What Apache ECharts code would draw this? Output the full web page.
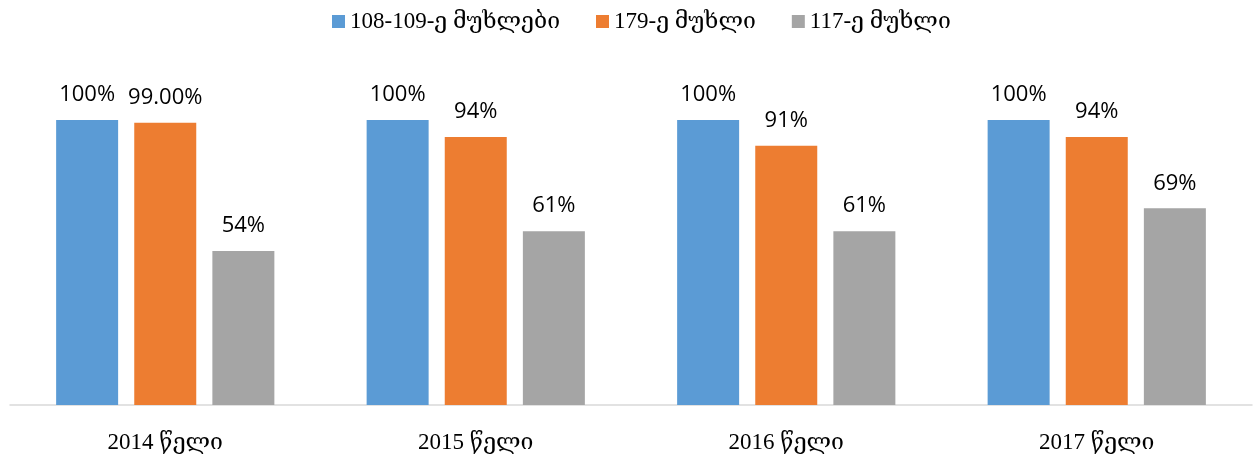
<!DOCTYPE html>
<html>
<head>
<meta charset="utf-8">
<script src="https://cdn.jsdelivr.net/npm/echarts@6/dist/echarts.min.js"></script>
<style>html,body{margin:0;padding:0;background:#fff;}#c{width:1253px;height:460px;}</style>
</head>
<body>
<div id="c"></div>
<script>
const categories = ['2014 წელი', '2015 წელი', '2016 წელი', '2017 წელი'];
const seriesNames = ['108-109-ე მუხლები', '179-ე მუხლი', '117-ე მუხლი'];
const s1 = [100, 100, 100, 100];
const s2 = [99, 94, 91, 94];
const s3 = [54, 61, 61, 69];
const s1Labels = ['100%', '100%', '100%', '100%'];
const s2Labels = ['99.00%', '94%', '91%', '94%'];
const s3Labels = ['54%', '61%', '61%', '69%'];
const colors = ['#5B9BD5', '#ED7D31', '#A5A5A5'];

const serifFont = "'Liberation Serif', 'DejaVu Serif', serif";
const sansFont = "'Open Sans', 'DejaVu Sans', sans-serif";

function mk(name, data, labels, color) {
  return {
    name: name,
    type: 'bar',
    data: data,
    barWidth: 62,
    barGap: '26%',
    itemStyle: { color: color },
    label: {
      show: true,
      position: 'top',
      distance: 14,
      fontFamily: sansFont,
      fontSize: 22,
      color: '#000',
      formatter: p => labels[p.dataIndex]
    }
  };
}

const chart = echarts.init(document.getElementById('c'));
chart.setOption({
  animation: false,
  legend: {
    top: 5,
    left: 327,
    icon: 'rect',
    itemWidth: 13,
    itemHeight: 13,
    itemGap: 36,
    textStyle: { fontFamily: serifFont, fontSize: 23, color: '#000' },
    data: seriesNames
  },
  grid: { left: 10, right: 1, top: 120, bottom: 55, containLabel: false },
  xAxis: {
    type: 'category',
    data: categories,
    axisLine: { lineStyle: { color: '#D9D9D9', width: 1.5 } },
    axisTick: { show: false },
    axisLabel: { fontFamily: serifFont, fontSize: 23, color: '#000', margin: 26 }
  },
  yAxis: { type: 'value', min: 0, max: 100, show: false, splitLine: { show: false } },
  series: [
    mk(seriesNames[0], s1, s1Labels, colors[0]),
    mk(seriesNames[1], s2, s2Labels, colors[1]),
    mk(seriesNames[2], s3, s3Labels, colors[2])
  ]
});
</script>
</body>
</html>
